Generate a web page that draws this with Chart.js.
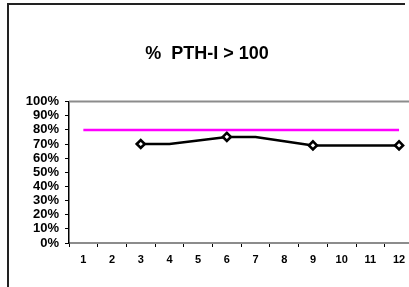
<!DOCTYPE html>
<html>
<head>
<meta charset="utf-8">
<script src="https://cdn.jsdelivr.net/npm/chart.js@4"></script>
<style>
  html, body { margin: 0; padding: 0; background: #fff; overflow: hidden; width: 409px; height: 287px; }
  #frame { position: absolute; left: 7px; top: 3px; width: 396px; height: 290px; border-top: 2px solid #222; border-left: 2px solid #222; }
  #wrap { position: absolute; left: 0; top: 0; width: 420px; height: 287px; }
</style>
</head>
<body>
<div id="frame"></div>
<div id="wrap"><canvas id="c" width="420" height="287"></canvas></div>
<script>
const titleText = '%  PTH-I > 100';
const categories = ['1','2','3','4','5','6','7','8','9','10','11','12'];
const pthValues = [null, null, 70, 70, 72.5, 75, 75, 72, 69, 69, 69, 69];
const markerShown = [0, 0, 1, 0, 0, 1, 0, 0, 1, 0, 0, 1];
const targetValues = [80, 80, 80, 80, 80, 80, 80, 80, 80, 80, 80, 80];
const yTickValues = [0, 10, 20, 30, 40, 50, 60, 70, 80, 90, 100];

const topLine = {
  id: 'topLine',
  beforeDatasetsDraw(chart) {
    const a = chart.chartArea, ctx = chart.ctx;
    ctx.save();
    ctx.strokeStyle = '#8c8c8c';
    ctx.lineWidth = 2;
    ctx.beginPath();
    ctx.moveTo(a.left, a.top);
    ctx.lineTo(a.right, a.top);
    ctx.stroke();
    ctx.restore();
  }
};

new Chart(document.getElementById('c'), {
  type: 'line',
  data: {
    labels: categories,
    datasets: [
      {
        label: 'Target',
        data: targetValues,
        borderColor: '#ff00ff',
        borderWidth: 2.5,
        pointRadius: 0,
        fill: false,
        tension: 0
      },
      {
        label: '% PTH-I > 100',
        data: pthValues,
        borderColor: '#000',
        borderWidth: 2.5,
        pointStyle: 'rectRot',
        pointRadius: markerShown.map(m => m ? 4 : 0),
        pointBorderWidth: 2.6,
        pointBackgroundColor: '#fff',
        pointBorderColor: '#000',
        fill: false,
        tension: 0
      }
    ]
  },
  plugins: [topLine],
  options: {
    responsive: false,
    animation: false,
    layout: { padding: { left: 0, right: 6, top: 0, bottom: 0 } },
    plugins: {
      legend: { display: false },
      tooltip: { enabled: false },
      title: {
        display: true,
        text: titleText,
        color: '#000',
        font: { family: 'Liberation Sans, Arial, sans-serif', size: 18, weight: 'bold' },
        padding: { top: 43, bottom: 37 }
      }
    },
    scales: {
      x: {
        offset: true,
        grid: { display: true, offset: true, drawOnChartArea: false, color: '#000', tickLength: 4, lineWidth: 1 },
        border: { display: true, color: '#8c8c8c', width: 2 },
        ticks: {
          color: '#000',
          padding: 6,
          maxRotation: 0,
          autoSkip: false,
          font: { family: 'Liberation Sans, Arial, sans-serif', size: 11, weight: 'bold' }
        },
        afterFit(scale) { scale.height = 44; }
      },
      y: {
        min: 0,
        max: 100,
        afterBuildTicks(scale) { scale.ticks = yTickValues.map(v => ({ value: v })); },
        grid: { display: true, drawOnChartArea: false, color: '#000', tickLength: 4, lineWidth: 1 },
        border: { display: true, color: '#000', width: 1.5 },
        ticks: {
          autoSkip: false,
          color: '#000',
          padding: 6,
          callback: v => v + '%',
          font: { family: 'Liberation Sans, Arial, sans-serif', size: 13, weight: 'bold', lineHeight: 1 }
        },
        afterFit(scale) { scale.width = 69; }
      }
    }
  }
});
</script>
</body>
</html>
